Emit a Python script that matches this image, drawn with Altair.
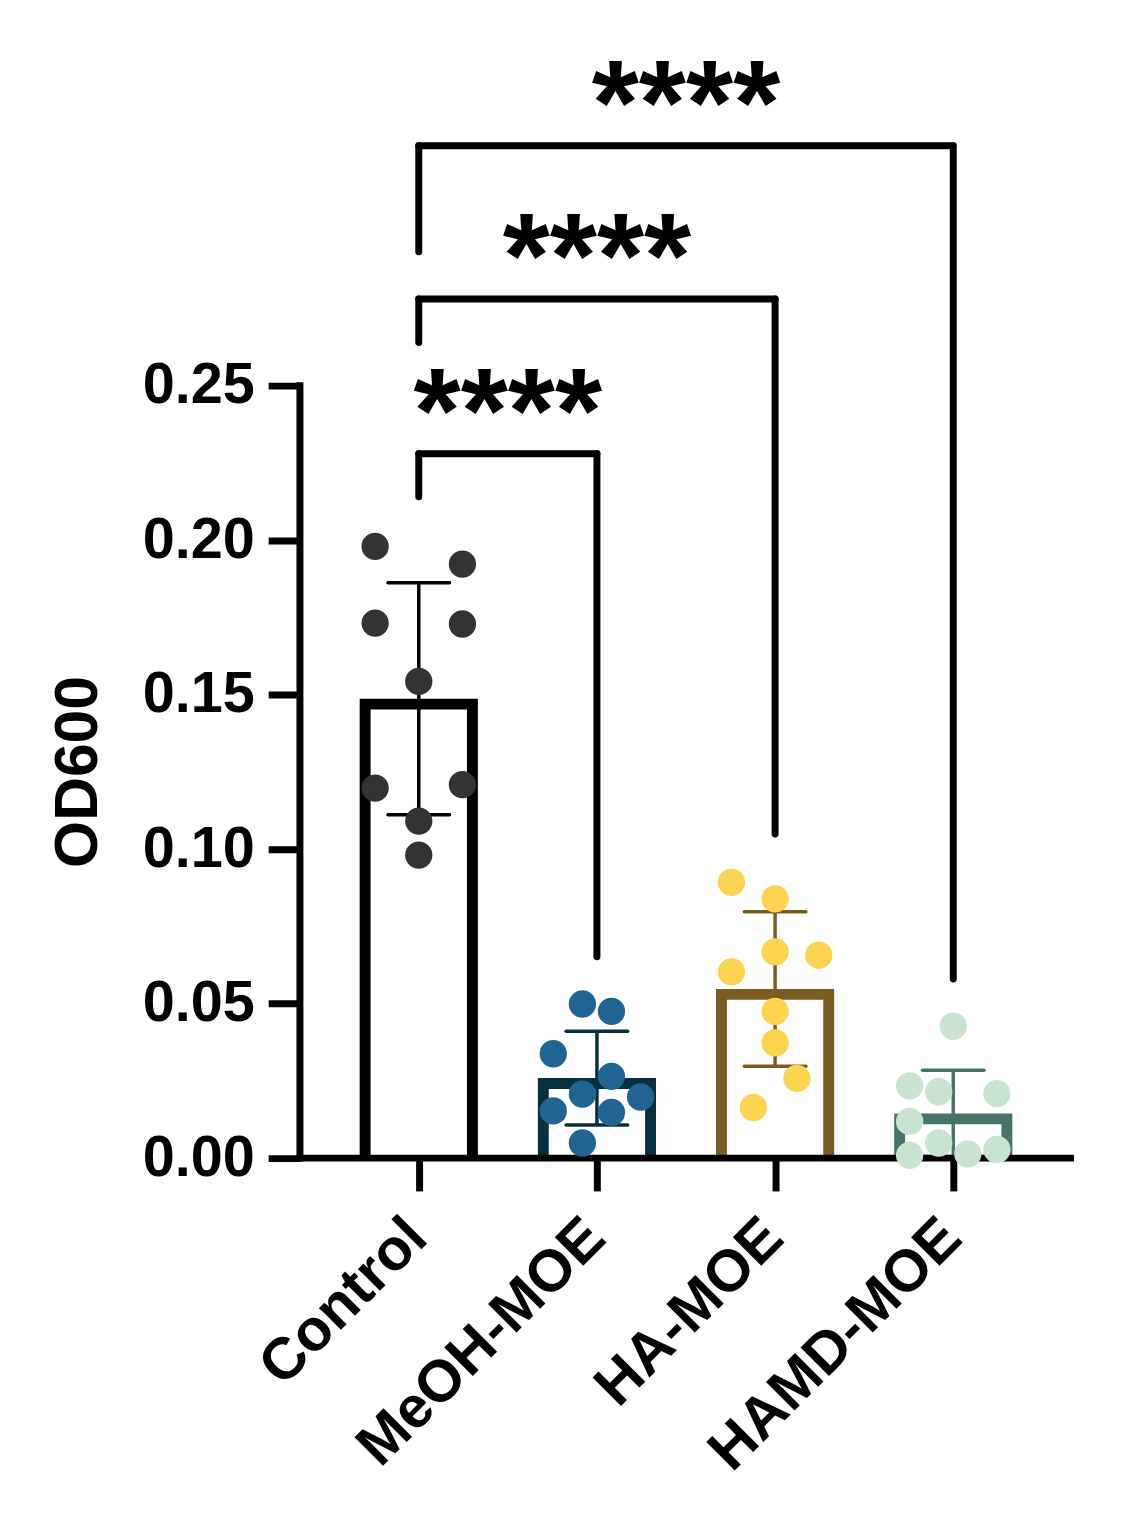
import altair as alt
import pandas as pd

FONT = "Liberation Sans"

# ---------------- data ----------------
groups = ["Control", "MeOH-MOE", "HA-MOE", "HAMD-MOE"]
group_idx = [1, 2, 3, 4]
bar_edge_colors = ["#000000", "#07303f", "#7a5b22", "#48736b"]
dot_colors = ["#333333", "#1f6493", "#fcd450", "#c8e4d0"]

control_vals = [0.1980, 0.1923, 0.1732, 0.1729, 0.1543, 0.1198, 0.1209, 0.1091, 0.0981]
control_cols = [-1.5, 1.5, -1.5, 1.5, 0, -1.5, 1.5, 0, 0]
meoh_vals = [0.0499, 0.0475, 0.0338, 0.0265, 0.0207, 0.0153, 0.0148, 0.0198, 0.0049]
meoh_cols = [-0.5, 0.5, -1.5, 0.5, -0.5, -1.5, 0.5, 1.5, -0.5]
ha_vals = [0.0893, 0.0839, 0.0668, 0.0657, 0.0603, 0.0475, 0.0373, 0.0258, 0.0164]
ha_cols = [-1.5, 0, 0, 1.5, -1.5, 0, 0, 0.75, -0.75]
hamd_vals = [0.0427, 0.0234, 0.0215, 0.0209, 0.0119, 0.0049, 0.0009, 0.0014, 0.0028]
hamd_cols = [0, -1.5, -0.5, 1.5, -1.5, -0.5, -1.5, 0.5, 1.5]

y_ticks = [0.0, 0.05, 0.10, 0.15, 0.20, 0.25]
y_title = "OD600"

# significance brackets
br_left = [1, 1, 1]
br_right = [2, 3, 4]
br_level = [0.2280, 0.2781, 0.3277]
br_left_end = [0.2141, 0.2640, 0.2934]
br_right_end = [0.0652, 0.1049, 0.0580]
br_label = ["****", "****", "****"]

# ---------------- layout constants ----------------
COL_STEP = 0.1633          # swarm column spacing, in category units
X_DOMAIN = [0.333, 4.658]
Y_DOMAIN = [0.0, 0.36]
W, H = 776, 1120

all_vals = [control_vals, meoh_vals, ha_vals, hamd_vals]
all_cols = [control_cols, meoh_cols, ha_cols, hamd_cols]

rows = []
for gi, g in enumerate(groups):
    for v, c in zip(all_vals[gi], all_cols[gi]):
        rows.append({"group": g, "idx": group_idx[gi],
                     "x": group_idx[gi] + c * COL_STEP, "y": v,
                     "dot": dot_colors[gi]})
pts = pd.DataFrame(rows)

stats = (pts.groupby("group", sort=False)["y"].agg(["mean", "std"])
         .reindex(groups).reset_index())
stats["idx"] = group_idx
stats["lo"] = stats["mean"] - stats["std"]
stats["hi"] = stats["mean"] + stats["std"]
stats["edge"] = bar_edge_colors

br = pd.DataFrame({"l": br_left, "r": br_right, "level": br_level,
                   "le": br_left_end, "re": br_right_end, "label": br_label})
br["mid"] = (br["l"] + br["r"]) / 2

axis_df = pd.DataFrame({"lo": [y_ticks[0]], "hi": [y_ticks[-1]],
                        "mid": [(y_ticks[0] + y_ticks[-1]) / 2], "t": [y_title]})

xs = alt.Scale(domain=X_DOMAIN, nice=False, zero=False, padding=0)
ys = alt.Scale(domain=Y_DOMAIN, nice=False, zero=False, padding=0)

label_expr = "[" + ",".join("'%s'" % g for g in groups) + "][datum.value - 1]"
x_axis = alt.Axis(values=group_idx, labelExpr=label_expr, labelAngle=-45,
                  labelAlign="right", labelBaseline="middle", labelFontSize=59,
                  labelPadding=37, labelOffset=-2, tickSize=33, tickWidth=7,
                  title=None, domain=False, labelOverlap=False, labelFlush=False,
                  labelBound=False, labelLimit=0)
y_axis = alt.Axis(values=y_ticks, format=".2f", labelFontSize=58, tickSize=32,
                  tickWidth=7, labelPadding=14, title=None, domain=False,
                  labelOverlap=False, labelLimit=0)

outer = alt.Chart(stats).mark_bar(size=119).encode(
    x=alt.X("idx:Q", scale=xs, axis=x_axis),
    y=alt.Y("mean:Q", scale=ys, axis=y_axis),
    color=alt.Color("edge:N", scale=None),
)
inner = alt.Chart(stats).mark_bar(size=97, color="white", yOffset=11).encode(
    x=alt.X("idx:Q", scale=xs),
    y=alt.Y("mean:Q", scale=ys),
    y2=alt.datum(0),
)
err = alt.Chart(stats).mark_rule(strokeWidth=3.5).encode(
    x=alt.X("idx:Q", scale=xs), y=alt.Y("lo:Q", scale=ys), y2="hi:Q",
    color=alt.Color("edge:N", scale=None),
)
cap_hi = alt.Chart(stats).mark_rule(strokeWidth=3.5, xOffset=-31, x2Offset=31,
                                    strokeCap="round").encode(
    x=alt.X("idx:Q", scale=xs), x2="idx:Q", y=alt.Y("hi:Q", scale=ys),
    color=alt.Color("edge:N", scale=None),
)
cap_lo = alt.Chart(stats).mark_rule(strokeWidth=3.5, xOffset=-31, x2Offset=31,
                                    strokeCap="round").encode(
    x=alt.X("idx:Q", scale=xs), x2="idx:Q", y=alt.Y("lo:Q", scale=ys),
    color=alt.Color("edge:N", scale=None),
)

br_h = alt.Chart(br).mark_rule(strokeWidth=7, strokeCap="round", color="black").encode(
    x=alt.X("l:Q", scale=xs), x2="r:Q", y=alt.Y("level:Q", scale=ys))
br_l = alt.Chart(br).mark_rule(strokeWidth=7, strokeCap="round", color="black").encode(
    x=alt.X("l:Q", scale=xs), y=alt.Y("le:Q", scale=ys), y2="level:Q")
br_r = alt.Chart(br).mark_rule(strokeWidth=7, strokeCap="round", color="black").encode(
    x=alt.X("r:Q", scale=xs), y=alt.Y("re:Q", scale=ys), y2="level:Q")
stars = alt.Chart(br).mark_text(fontSize=122, font=FONT, fontWeight="bold",
                                baseline="alphabetic", dy=-2, color="black").encode(
    x=alt.X("mid:Q", scale=xs), y=alt.Y("level:Q", scale=ys), text="label:N")

y_line = alt.Chart(axis_df).mark_rule(strokeWidth=7, strokeCap="square", color="black").encode(
    x=alt.value(0), y=alt.Y("lo:Q", scale=ys), y2="hi:Q")
x_line = alt.Chart(axis_df).mark_rule(strokeWidth=7, strokeCap="square", color="black").encode(
    x=alt.value(0), x2=alt.value(W), y=alt.Y("lo:Q", scale=ys))

dots = alt.Chart(pts).mark_circle(size=755, opacity=1).encode(
    x=alt.X("x:Q", scale=xs), y=alt.Y("y:Q", scale=ys),
    color=alt.Color("dot:N", scale=None),
)

title = alt.Chart(axis_df).mark_text(angle=270, fontSize=61, font=FONT, fontWeight="bold",
                                     align="center", baseline="middle", color="black").encode(
    x=alt.value(-222), y=alt.Y("mid:Q", scale=ys), text="t:N")

chart = alt.layer(outer, inner, err, cap_hi, cap_lo, br_h, br_l, br_r,
                  y_line, x_line, dots, stars, title).properties(
    width=W, height=H,
    autosize=alt.AutoSizeParams(type="none"),
    padding={"left": 294, "top": 33, "right": 70, "bottom": 340},
).configure_view(stroke=None).configure_axis(
    grid=False, labelColor="black", tickColor="black", labelFont=FONT,
    labelFontWeight="bold",
)

chart.save("out.html", embed_options={"renderer": "svg", "actions": False})
